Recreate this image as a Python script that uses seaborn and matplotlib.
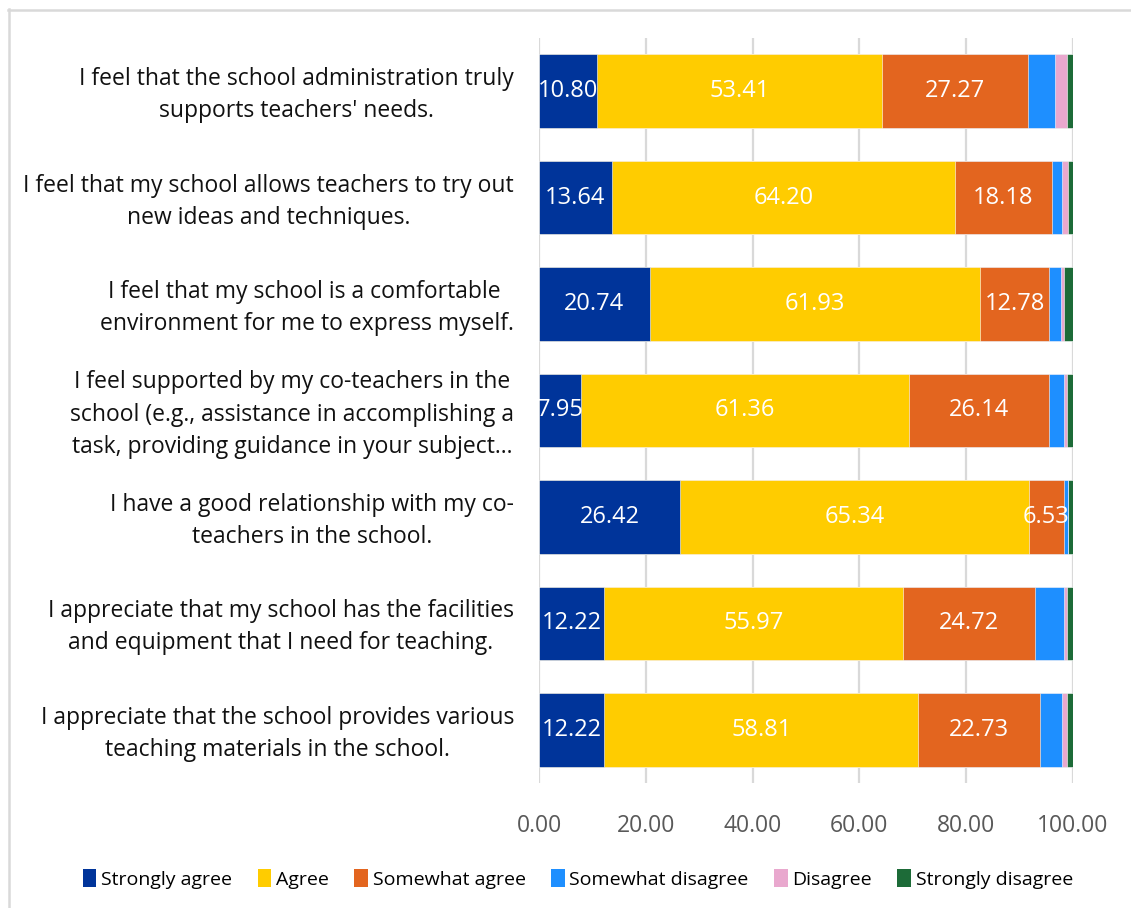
import numpy as np
import pandas as pd
import matplotlib
matplotlib.use("Agg")
import matplotlib.pyplot as plt
import matplotlib.transforms as mtransforms
from matplotlib.lines import Line2D
from matplotlib.patches import Patch
import seaborn as sns

# Survey statements (top to bottom)
statements = [
    "I feel that the school administration truly\nsupports teachers' needs.",
    "I feel that my school allows teachers to try out\nnew ideas and techniques.",
    "I feel that my school is a comfortable \nenvironment for me to express myself.",
    "I feel supported by my co-teachers in the\nschool (e.g., assistance in accomplishing a\ntask, providing guidance in your subject...",
    "I have a good relationship with my co-\nteachers in the school.",
    "I appreciate that my school has the facilities\nand equipment that I need for teaching.",
    "I appreciate that the school provides various\nteaching materials in the school.",
]

# Percentage of responses per level
strongly_agree = [10.80, 13.64, 20.74, 7.95, 26.42, 12.22, 12.22]
agree = [53.41, 64.20, 61.93, 61.36, 65.34, 55.97, 58.81]
somewhat_agree = [27.27, 18.18, 12.78, 26.14, 6.53, 24.72, 22.73]
somewhat_disagree = [5.11, 1.99, 2.27, 2.84, 0.71, 5.40, 4.26]
disagree = [2.27, 1.14, 0.57, 0.57, 0.14, 0.57, 0.86]
strongly_disagree = [1.14, 0.85, 1.71, 1.14, 0.86, 1.14, 1.11]

levels = ["Strongly agree", "Agree", "Somewhat agree",
          "Somewhat disagree", "Disagree", "Strongly disagree"]
series = [strongly_agree, agree, somewhat_agree,
          somewhat_disagree, disagree, strongly_disagree]
colors = ["#00349A", "#FFCC00", "#E3651F", "#1E8FFF", "#E9A8CE", "#1D6B38"]
labelled = {"Strongly agree", "Agree", "Somewhat agree"}

x_ticks = [0, 20, 40, 60, 80, 100]

FONT = "Open Sans"
plt.rcParams["font.family"] = [FONT, "DejaVu Sans"]

df = pd.DataFrame({lvl: vals for lvl, vals in zip(levels, series)})
df["statement"] = statements
cum = df[levels].cumsum(axis=1)

fig = plt.figure(figsize=(11.31, 9.08), dpi=100)
fig.patch.set_facecolor("white")
ax = fig.add_axes([539 / 1131, 1 - 783 / 908, (1073 - 539) / 1131, (783 - 38) / 908])

# Stacked bars: draw cumulative totals from the outermost level inward
for lvl, col in reversed(list(zip(levels, colors))):
    sns.barplot(data=pd.DataFrame({"statement": statements, "value": cum[lvl]}),
                x="value", y="statement", orient="h", color=col,
                width=0.69, ax=ax, errorbar=None, saturation=1,
                edgecolor="white", linewidth=0.4)

# Value labels centred in the larger segments
for lvl in levels:
    if lvl not in labelled:
        continue
    for i, (v, c) in enumerate(zip(df[lvl], cum[lvl])):
        ax.text(c - v / 2, i, f"{v:.2f}", ha="center", va="center",
                color="white", fontsize=17)

ax.set_xlim(0, 100)
ax.set_ylim(len(statements) - 0.5, -0.5)
ax.set_xticks(x_ticks)
ax.set_xticklabels([f"{t:.2f}" for t in x_ticks], fontsize=16.5, color="#595959")
ax.set_yticks(range(len(statements)))
ax.set_yticklabels(statements, fontsize=16.5, color="#111111",
                   multialignment="center", linespacing=1.45)
ax.tick_params(axis="both", length=0)
ax.tick_params(axis="x", pad=22)
ax.tick_params(axis="y", pad=18)
# nudge statement labels up slightly
lift = mtransforms.ScaledTranslation(0, 3 / 100, fig.dpi_scale_trans)
for lab in ax.get_yticklabels():
    lab.set_transform(lab.get_transform() + lift)
ax.set_xlabel("")
ax.set_ylabel("")
ax.grid(axis="x", color="#d9d9d9", linewidth=1.6)
ax.set_axisbelow(True)
for s in ax.spines.values():
    s.set_visible(False)
ax.set_facecolor("white")

# Legend along the bottom
handles = [Patch(facecolor=c, edgecolor="none") for c in colors]
fig.legend(handles, levels, loc="center", ncol=6,
           bbox_to_anchor=(578 / 1131, 1 - 879 / 908), frameon=False,
           fontsize=14, handlelength=0.7, handleheight=1.0,
           handletextpad=0.25, columnspacing=1.3)

# Frame lines at the top and left of the chart area
fig.add_artist(Line2D([8.5 / 1131, 8.5 / 1131], [0, 1 - 9 / 908],
                      transform=fig.transFigure, color="#d9d9d9", linewidth=1.8))
fig.add_artist(Line2D([8 / 1131, 1], [1 - 9.5 / 908, 1 - 9.5 / 908],
                      transform=fig.transFigure, color="#d9d9d9", linewidth=1.8))

fig.savefig("out.png", dpi=100, facecolor="white")
